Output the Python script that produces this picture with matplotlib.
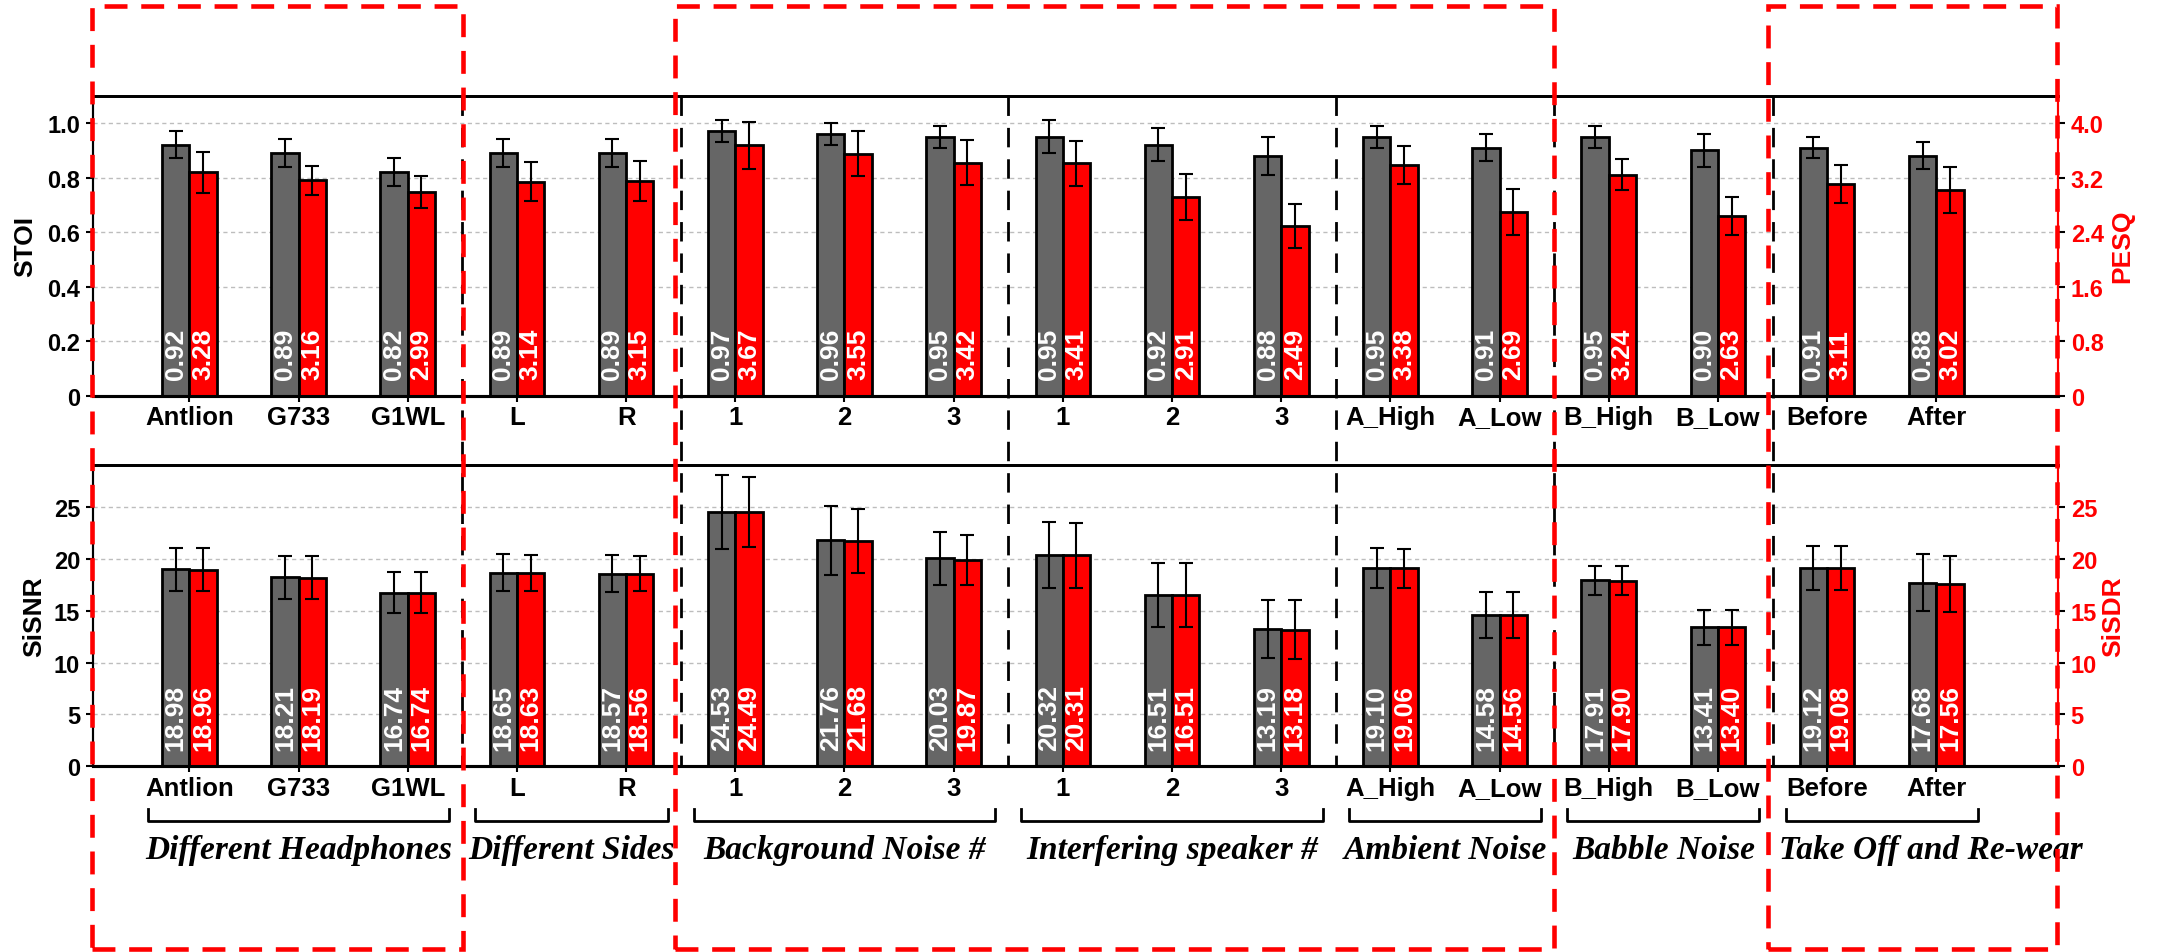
import matplotlib
matplotlib.use("Agg")
import matplotlib.pyplot as plt
import numpy as np
from matplotlib.patches import Rectangle
from matplotlib.lines import Line2D
import matplotlib.transforms as mtransforms

plt.rcParams['font.family'] = ['Liberation Sans', 'DejaVu Sans']
plt.rcParams['font.weight'] = 'bold'

# ---------------- data ----------------
categories = ['Antlion', 'G733', 'G1WL', 'L', 'R', '1', '2', '3', '1', '2', '3',
              'A_High', 'A_Low', 'B_High', 'B_Low', 'Before', 'After']
stoi = [0.92, 0.89, 0.82, 0.89, 0.89, 0.97, 0.96, 0.95, 0.95, 0.92, 0.88,
        0.95, 0.91, 0.95, 0.90, 0.91, 0.88]
stoi_err = [0.05, 0.05, 0.05, 0.05, 0.05, 0.04, 0.04, 0.04, 0.06, 0.06, 0.07,
            0.04, 0.05, 0.04, 0.06, 0.04, 0.05]
pesq = [3.28, 3.16, 2.99, 3.14, 3.15, 3.67, 3.55, 3.42, 3.41, 2.91, 2.49,
        3.38, 2.69, 3.24, 2.63, 3.11, 3.02]
pesq_err = [0.30, 0.21, 0.23, 0.29, 0.29, 0.34, 0.33, 0.33, 0.33, 0.34, 0.32,
            0.28, 0.34, 0.23, 0.28, 0.28, 0.34]
sisnr = [18.98, 18.21, 16.74, 18.65, 18.57, 24.53, 21.76, 20.03, 20.32, 16.51, 13.19,
         19.10, 14.58, 17.91, 13.41, 19.12, 17.68]
sisnr_err = [2.1, 2.05, 2.0, 1.8, 1.75, 3.55, 3.3, 2.55, 3.17, 3.05, 2.8,
             1.93, 2.2, 1.38, 1.68, 2.12, 2.75]
sisdr = [18.96, 18.19, 16.74, 18.63, 18.56, 24.49, 21.68, 19.87, 20.31, 16.51, 13.18,
         19.06, 14.56, 17.90, 13.40, 19.08, 17.56]
sisdr_err = [2.1, 2.05, 2.0, 1.7, 1.7, 3.4, 3.1, 2.4, 3.15, 3.05, 2.8,
             1.9, 2.2, 1.38, 1.68, 2.12, 2.7]
groups = ['Different Headphones', 'Different Sides', 'Background Noise #',
          'Interfering speaker #', 'Ambient Noise', 'Babble Noise', 'Take Off and Re-wear']
group_sizes = [3, 2, 3, 3, 2, 2, 2]
stoi_ticks = [0, 0.2, 0.4, 0.6, 0.8, 1.0]
stoi_ticklabels = ['0', '0.2', '0.4', '0.6', '0.8', '1.0']
pesq_ticks = [0, 0.8, 1.6, 2.4, 3.2, 4.0]
pesq_ticklabels = ['0', '0.8', '1.6', '2.4', '3.2', '4.0']
si_ticks = [0, 5, 10, 15, 20, 25]

# ---------------- style ----------------
GRAY = '#666666'
RED = '#ff0000'
W, H = 2157, 953
fig = plt.figure(figsize=(W / 100, H / 100), dpi=100)

x = np.arange(len(categories))
bw = 0.25
XL = (-0.88, 17.11)

ax_left = 93.3 / W
ax_w = (2057.5 - 93.3) / W
ax1 = fig.add_axes([ax_left, 1 - 396.7 / H, ax_w, (396.7 - 96.7) / H])
ax2 = fig.add_axes([ax_left, 1 - 767.3 / H, ax_w, (767.3 - 466.3) / H])


def style_axes(ax, axr, lvals, lerr, rvals, rerr, ylim, rylim, lt, ltl, rt, rtl):
    ax.set_xlim(*XL)
    ax.set_ylim(*ylim)
    axr.set_ylim(*rylim)
    ax.set_axisbelow(True)
    ax.yaxis.grid(True, linestyle=(0, (3, 2.5)), color='#bdbdbd', linewidth=1.0)
    ax.bar(x - bw / 2, lvals, bw, color=GRAY, edgecolor='black', linewidth=2.0, zorder=2)
    ax.errorbar(x - bw / 2, lvals, yerr=lerr, fmt='none', ecolor='black',
                elinewidth=1.5, capsize=5, capthick=1.5, zorder=3)
    axr.bar(x + bw / 2, rvals, bw, color=RED, edgecolor='black', linewidth=2.0, zorder=2)
    axr.errorbar(x + bw / 2, rvals, yerr=rerr, fmt='none', ecolor='black',
                 elinewidth=1.5, capsize=5, capthick=1.5, zorder=3)
    for xi, v in zip(x, lvals):
        ax.annotate(f"{v:.2f}", xy=(xi - bw / 2, 0), xytext=(0, 12),
                    textcoords='offset points', rotation=90, ha='center', va='bottom',
                    color='white', fontsize=19, fontweight='bold', zorder=4)
    for xi, v in zip(x, rvals):
        axr.annotate(f"{v:.2f}", xy=(xi + bw / 2, 0), xytext=(0, 12),
                     textcoords='offset points', rotation=90, ha='center', va='bottom',
                     color='white', fontsize=19, fontweight='bold', zorder=4)
    ax.set_yticks(lt)
    ax.set_yticklabels(ltl)
    axr.set_yticks(rt)
    axr.set_yticklabels(rtl)
    ax.set_xticks(x)
    ax.set_xticklabels(categories)
    ax.tick_params(axis='x', length=4, width=1.5, labelsize=18.5, pad=3)
    ax.tick_params(axis='y', length=5, width=1.5, labelsize=17, pad=4.5)
    axr.tick_params(axis='y', length=5, width=1.5, labelsize=17, pad=4.5,
                    colors='black', labelcolor=RED)
    for lab in ax.get_xticklabels() + ax.get_yticklabels() + axr.get_yticklabels():
        lab.set_fontweight('bold')
    for a in (ax, axr):
        a.spines['left'].set_linewidth(1.5)
        a.spines['top'].set_linewidth(2.0)
        a.spines['bottom'].set_linewidth(2.2)
        a.spines['right'].set_linewidth(1.5)
        a.spines['right'].set_color(RED)


ax1r = ax1.twinx()
style_axes(ax1, ax1r, stoi, stoi_err, pesq, pesq_err, (0, 1.1), (0, 4.4),
           stoi_ticks, stoi_ticklabels, pesq_ticks, pesq_ticklabels)
ax2r = ax2.twinx()
style_axes(ax2, ax2r, sisnr, sisnr_err, sisdr, sisdr_err, (0, 29), (0, 29),
           si_ticks, [str(t) for t in si_ticks], si_ticks, [str(t) for t in si_ticks])

# axis titles
fig.text(25 / W, 1 - 246.7 / H, 'STOI', rotation=90, ha='center', va='center',
         fontsize=19, fontweight='bold')
fig.text(34.6 / W, 1 - 616.7 / H, 'SiSNR', rotation=90, ha='center', va='center',
         fontsize=19, fontweight='bold')
fig.text(2122.5 / W, 1 - 246.7 / H, 'PESQ', rotation=90, ha='center', va='center',
         fontsize=19, fontweight='bold', color=RED)
fig.text(2113.5 / W, 1 - 616.7 / H, 'SiSDR', rotation=90, ha='center', va='center',
         fontsize=19, fontweight='bold', color=RED)

trans = mtransforms.blended_transform_factory(ax1.transData, fig.transFigure)

# group separators (black dashed) and brackets / labels
label_shift = [0, 0, 0, 0, 0, 0, 0.45]
starts = np.cumsum([0] + group_sizes[:-1])
for k, (s, n) in enumerate(zip(starts, group_sizes)):
    e = s + n - 1
    if k > 0:
        xs = s - 0.5
        fig.add_artist(Line2D([xs, xs], [1 - 96.7 / H, 1 - 767.3 / H], transform=trans,
                              color='black', linewidth=2.0, dashes=(7, 4.3), zorder=3))
    xa, xb = s - 0.38, e + 0.38
    yt, yb = 1 - 810 / H, 1 - 821.7 / H
    fig.add_artist(Line2D([xa, xa, xb, xb], [yt, yb, yb, yt], transform=trans,
                          color='black', linewidth=2.0, zorder=3))
    fig.text((s + e) / 2 + label_shift[k], 1 - 851 / H, groups[k], transform=trans,
             ha='center', va='center', fontsize=24, fontweight='bold', fontstyle='italic',
             family=['Liberation Serif', 'DejaVu Serif'])

# red dashed highlight boxes
box_edges = [(-0.888, 2.507), (4.449, 12.503), (14.457, 17.108)]
y0, y1 = 1 - 950 / H, 1 - 6.7 / H
for xa, xb in box_edges:
    fig.add_artist(Rectangle((xa, y0), xb - xa, y1 - y0, transform=trans, fill=False,
                             edgecolor=RED, linewidth=3.3, linestyle=(0, (5, 3)),
                             zorder=5))

fig.savefig('out.png', dpi=100)
